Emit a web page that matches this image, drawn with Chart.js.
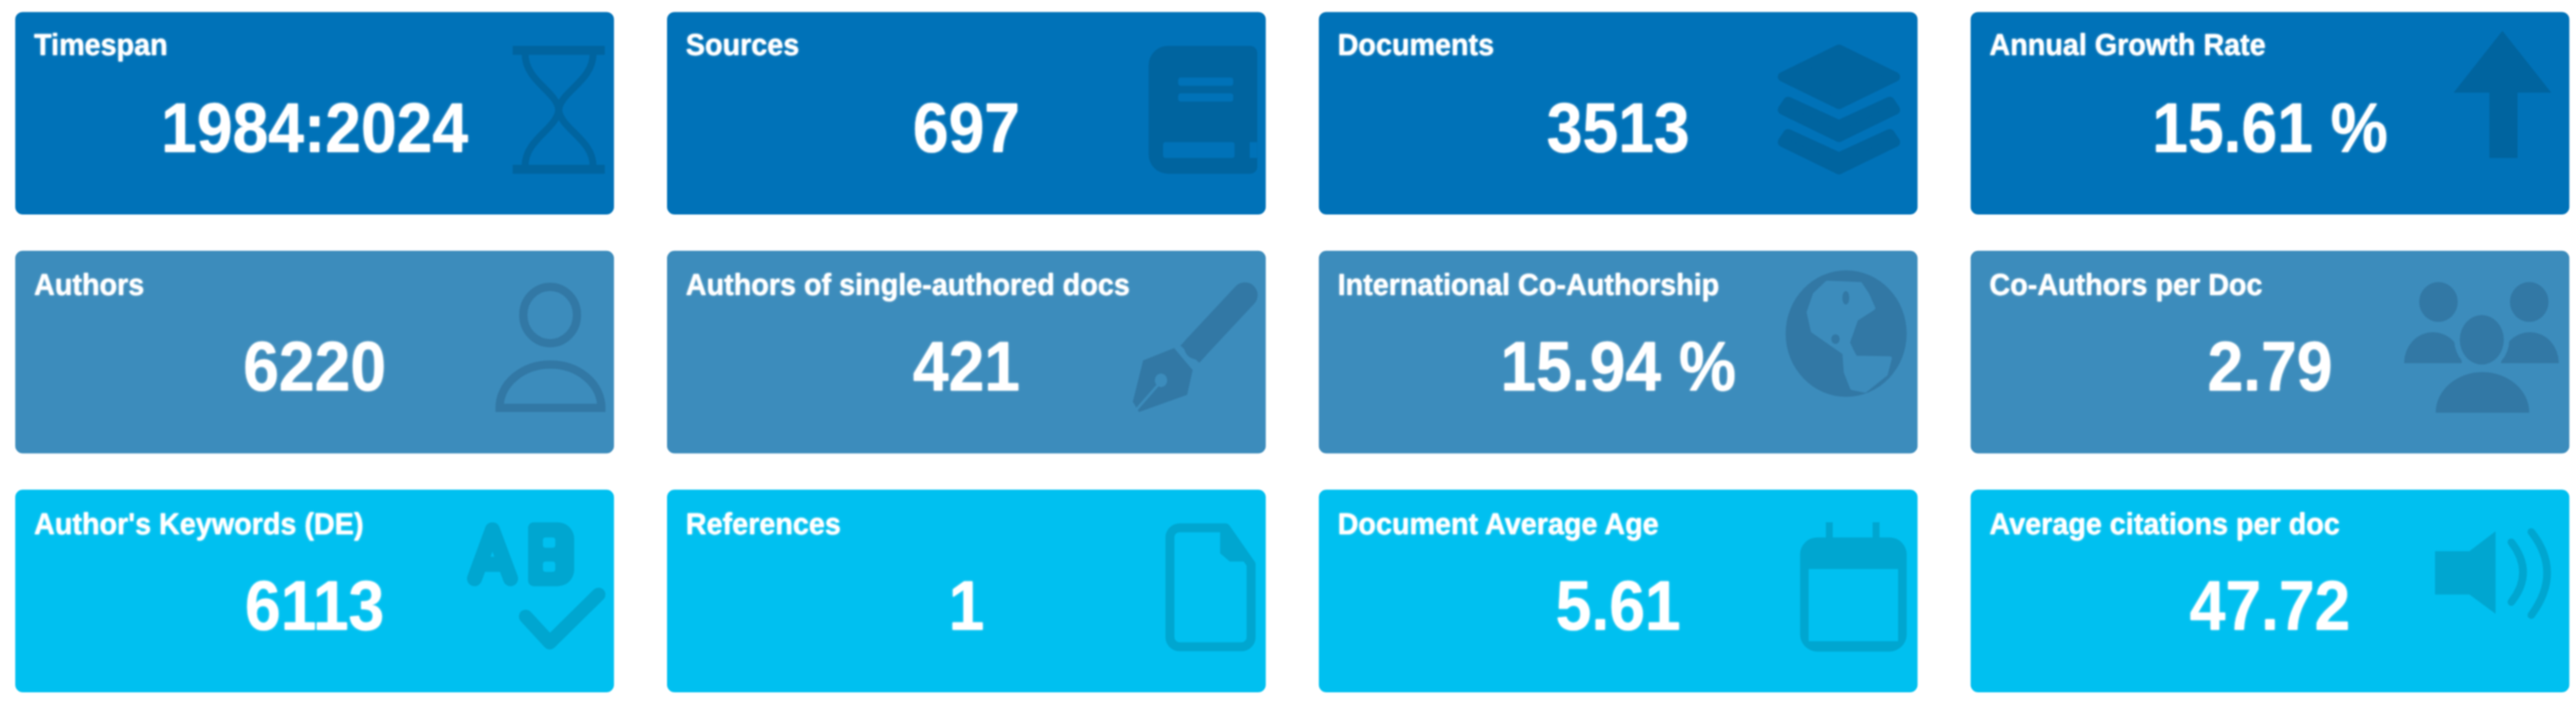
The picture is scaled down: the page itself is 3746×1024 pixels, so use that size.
<!DOCTYPE html>
<html>
<head>
<meta charset="utf-8">
<title>Main information</title>
<script src="https://cdn.jsdelivr.net/npm/chart.js@4/dist/chart.umd.min.js"></script>
<style>
  html, body { margin: 0; padding: 0; background: #fff; }
  canvas { display: block; filter: blur(0.9px); }
</style>
</head>
<body>
<canvas id="tiles" width="3746" height="1024"></canvas>
<script>
const columns = ['col1', 'col2', 'col3', 'col4'];

const titlesRow1 = ['Timespan', 'Sources', 'Documents', 'Annual Growth Rate'];
const valuesRow1 = ['1984:2024', '697', '3513', '15.61 %'];
const iconsRow1 = ['hourglass', 'book', 'layers', 'arrow'];

const titlesRow2 = ['Authors', 'Authors of single-authored docs', 'International Co-Authorship', 'Co-Authors per Doc'];
const valuesRow2 = ['6220', '421', '15.94 %', '2.79'];
const iconsRow2 = ['person', 'pen', 'globe', 'group'];

const titlesRow3 = ["Author's Keywords (DE)", 'References', 'Document Average Age', 'Average citations per doc'];
const valuesRow3 = ['6113', '1', '5.61', '47.72'];
const iconsRow3 = ['keywords', 'file', 'calendar', 'speaker'];

const tileColors = ['#0072b8', '#3c8cbc', '#00c0f0'];
const iconColors = ['#00649f', '#3278a5', '#00a6d0'];

const rows = [
  { titles: titlesRow1, values: valuesRow1, icons: iconsRow1 },
  { titles: titlesRow2, values: valuesRow2, icons: iconsRow2 },
  { titles: titlesRow3, values: valuesRow3, icons: iconsRow3 }
];

function poly(ctx, pts) {
  ctx.beginPath();
  pts.forEach((p, i) => i ? ctx.lineTo(p[0], p[1]) : ctx.moveTo(p[0], p[1]));
  ctx.closePath();
}

function roundFill(ctx, x, y, w, h, r) {
  ctx.beginPath();
  ctx.roundRect(x, y, w, h, r);
  ctx.fill();
}

function oval(ctx, x, y, rx, ry) {
  ctx.beginPath();
  ctx.ellipse(x, y, rx, ry, 0, 0, Math.PI * 2);
}

function dome(ctx, x, base, rx, ry) {
  ctx.beginPath();
  ctx.ellipse(x, base, rx, ry, 0, Math.PI, 0);
  ctx.closePath();
}

// icons are drawn from the top left corner of their tile
const iconDrawers = {
  hourglass(ctx, ink) {
    ctx.fillRect(723, 49, 134, 13);
    ctx.fillRect(723, 222, 134, 13);
    ctx.lineWidth = 10;
    ctx.beginPath();
    ctx.moveTo(741, 60);
    ctx.bezierCurveTo(741, 100, 787, 115, 790, 142);
    ctx.bezierCurveTo(793, 170, 840, 185, 840, 224);
    ctx.moveTo(840, 60);
    ctx.bezierCurveTo(840, 100, 793, 115, 790, 142);
    ctx.bezierCurveTo(787, 170, 741, 185, 741, 224);
    ctx.stroke();
  },
  book(ctx, ink, tile) {
    roundFill(ctx, 700, 49, 158, 186, [28, 10, 10, 28]);
    ctx.fillStyle = tile;
    roundFill(ctx, 743, 95, 80, 12, 4);
    roundFill(ctx, 743, 118, 80, 12, 4);
    roundFill(ctx, 721, 189, 104, 23, 4);
    ctx.fillRect(847, 189, 11, 23);
  },
  layers(ctx) {
    ctx.lineWidth = 14;
    ctx.lineJoin = 'round';
    poly(ctx, [[756, 54], [838, 94], [756, 134], [674, 94]]);
    ctx.fill();
    ctx.stroke();
    [0, 47].forEach(dy => {
      poly(ctx, [[682, 130 + dy], [756, 164 + dy], [830, 130 + dy], [838, 142 + dy], [756, 182 + dy], [674, 142 + dy]]);
      ctx.fill();
      ctx.stroke();
    });
  },
  arrow(ctx) {
    poly(ctx, [[773, 27], [844, 117], [795, 117], [795, 212], [754, 212], [754, 117], [702, 117]]);
    ctx.fill();
  },
  person(ctx) {
    ctx.lineWidth = 12;
    oval(ctx, 777.5, 93, 39, 41);
    ctx.stroke();
    dome(ctx, 778, 228, 74, 63);
    ctx.stroke();
  },
  pen(ctx, ink, tile) {
    ctx.lineWidth = 37;
    ctx.lineCap = 'round';
    ctx.beginPath();
    ctx.moveTo(770, 139);
    ctx.lineTo(840, 64);
    ctx.stroke();
    ctx.lineCap = 'butt';
    ctx.beginPath();
    ctx.moveTo(770, 139);
    ctx.lineTo(760, 150);
    ctx.stroke();
    poly(ctx, [[692, 159], [737, 141], [764, 173], [756, 209], [686, 234], [677, 219]]);
    ctx.fill();
    ctx.strokeStyle = tile;
    ctx.fillStyle = tile;
    ctx.lineWidth = 4;
    ctx.beginPath();
    ctx.moveTo(681, 232);
    ctx.lineTo(716, 192);
    ctx.stroke();
    oval(ctx, 718, 188, 9, 10);
    ctx.fill();
  },
  globe(ctx, ink, tile) {
    oval(ctx, 766.5, 120, 88, 92);
    ctx.fill();
    ctx.fillStyle = tile;
    ctx.strokeStyle = tile;
    ctx.lineWidth = 6;
    ctx.lineJoin = 'round';
    poly(ctx, [[739, 46], [787, 48], [797, 63], [806, 83], [781, 99], [769, 133], [775, 146], [780, 155], [830, 156], [824, 179], [794, 203], [775, 199], [766, 176], [764, 148], [751, 139], [718, 116], [712, 89], [721, 63]]);
    ctx.fill();
    ctx.stroke();
    ctx.fillStyle = ink;
    oval(ctx, 766, 68, 5, 10);
    ctx.fill();
    oval(ctx, 751, 128, 6, 7);
    ctx.fill();
  },
  group(ctx, ink, tile) {
    oval(ctx, 680, 74, 28, 29);
    ctx.fill();
    oval(ctx, 812, 74, 28, 29);
    ctx.fill();
    dome(ctx, 672, 163, 42, 45);
    ctx.fill();
    dome(ctx, 813, 163, 42, 45);
    ctx.fill();
    ctx.fillStyle = tile;
    oval(ctx, 743, 129, 40, 44);
    ctx.fill();
    ctx.fillStyle = ink;
    oval(ctx, 743, 129, 32, 36);
    ctx.fill();
    dome(ctx, 744, 235, 68, 59);
    ctx.fill();
  },
  keywords(ctx, ink, tile) {
    ctx.lineWidth = 22;
    ctx.lineJoin = 'round';
    ctx.lineCap = 'round';
    ctx.beginPath();
    ctx.moveTo(667.5, 129);
    ctx.lineTo(693.5, 58);
    ctx.lineTo(720, 129);
    ctx.moveTo(680, 108);
    ctx.lineTo(707, 108);
    ctx.stroke();
    roundFill(ctx, 745.5, 47, 67, 93, [8, 24, 24, 8]);
    ctx.fillStyle = tile;
    roundFill(ctx, 767, 69, 18, 15, 4);
    roundFill(ctx, 767, 104, 18, 15, 4);
    ctx.lineWidth = 20;
    ctx.beginPath();
    ctx.moveTo(742, 184);
    ctx.lineTo(777, 222);
    ctx.lineTo(848, 152);
    ctx.strokeStyle = ink;
    ctx.stroke();
  },
  file(ctx) {
    ctx.lineWidth = 13;
    ctx.lineJoin = 'round';
    ctx.beginPath();
    ctx.moveTo(812, 55);
    ctx.lineTo(849, 108);
    ctx.arcTo(849, 228, 731, 228, 14);
    ctx.arcTo(731, 228, 731, 55, 14);
    ctx.arcTo(731, 55, 812, 55, 14);
    ctx.closePath();
    ctx.stroke();
    poly(ctx, [[804, 52], [816, 52], [852, 104], [818, 104], [804, 92]]);
    ctx.fill();
  },
  calendar(ctx, ink, tile) {
    roundFill(ctx, 699.5, 69, 155, 166, 25);
    ctx.fillRect(737, 47, 10, 24);
    ctx.fillRect(805, 47, 10, 24);
    ctx.fillStyle = tile;
    ctx.fillRect(712, 115, 130, 105);
  },
  speaker(ctx) {
    poly(ctx, [[675, 89], [725, 89], [763, 60], [763, 180], [725, 152], [675, 152]]);
    ctx.fill();
    ctx.lineWidth = 11;
    ctx.lineCap = 'round';
    ctx.beginPath();
    ctx.moveTo(786, 76);
    ctx.quadraticCurveTo(820, 120, 786, 163);
    ctx.moveTo(815, 61);
    ctx.quadraticCurveTo(861, 120, 815, 182);
    ctx.stroke();
  }
};

// squeezes the text a little, the source picture is narrower than plain Liberation
function squeezedText(ctx, text, x, y, ratio) {
  ctx.fillText(text, x, y, ctx.measureText(text).width * ratio);
}

const tileContent = {
  id: 'tileContent',
  afterDatasetsDraw(chart) {
    const ctx = chart.ctx;
    rows.forEach((row, r) => {
      chart.getDatasetMeta(r).data.forEach((bar, c) => {
        const left = bar.x - bar.width / 2;
        const top = Math.min(bar.y, bar.base);

        ctx.save();
        ctx.translate(left, top);
        ctx.fillStyle = iconColors[r];
        ctx.strokeStyle = iconColors[r];
        iconDrawers[row.icons[c]](ctx, iconColors[r], tileColors[r]);
        ctx.restore();

        ctx.save();
        ctx.fillStyle = '#fff';
        ctx.shadowColor = '#fff';
        ctx.shadowBlur = 3;
        ctx.textRendering = 'geometricPrecision';
        ctx.textBaseline = 'alphabetic';
        ctx.textAlign = 'left';
        ctx.font = 'bold 44px "Liberation Sans"';
        squeezedText(ctx, row.titles[c], left + 27, top + (r === 0 ? 62 : 64), 0.95);
        ctx.textAlign = 'center';
        ctx.font = 'bold 102px "Liberation Sans"';
        squeezedText(ctx, row.values[c], bar.x, top + 203, 0.915);
        ctx.restore();
      });
    });
  }
};

const tileInset = 0.077;

new Chart(document.getElementById('tiles'), {
  type: 'bar',
  data: {
    labels: columns,
    datasets: rows.map((row, r) => ({
      label: 'row' + (r + 1),
      data: row.values.map(() => [r + tileInset, r + 1 - tileInset]),
      backgroundColor: tileColors[r],
      borderRadius: 11,
      borderSkipped: false,
      barThickness: 870,
      grouped: false,
      clip: false
    }))
  },
  options: {
    responsive: false,
    devicePixelRatio: 1,
    animation: false,
    layout: { padding: { left: 457.5, right: 445, top: 0, bottom: 0 } },
    plugins: { legend: { display: false }, tooltip: { enabled: false } },
    scales: {
      x: { display: false, offset: false },
      y: { display: false, reverse: true, min: 0.026, max: 2.973 }
    }
  },
  plugins: [tileContent]
});
</script>
</body>
</html>
